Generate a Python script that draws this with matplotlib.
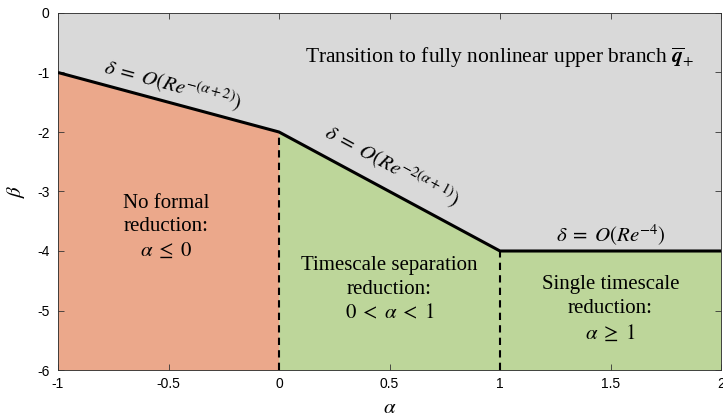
import matplotlib
matplotlib.use("Agg")
import matplotlib.pyplot as plt
import numpy as np

# Boundary between the reduced regimes and the nonlinear upper branch
alpha_bound = [-1.0, 0.0, 1.0, 2.0]
beta_bound = [-1.0, -2.0, -4.0, -4.0]

# Regime dividers
dividers = [0.0, 1.0]

x_ticks = [-1, -0.5, 0, 0.5, 1, 1.5, 2]
x_ticklabels = ["-1", "-0.5", "0", "0.5", "1", "1.5", "2"]
y_ticks = [0, -1, -2, -3, -4, -5, -6]
y_ticklabels = ["0", "-1", "-2", "-3", "-4", "-5", "-6"]

gray = "#d9d9d9"
orange = "#eba88b"
green = "#bdd69a"

plt.rcParams["mathtext.fontset"] = "stix"
serif = "Liberation Serif"

fig = plt.figure(figsize=(7.23, 4.15), dpi=100)
ax = fig.add_axes([58 / 723, 1 - 370 / 415, (721 - 58) / 723, (370 - 13) / 415])

xb = np.array(alpha_bound)
yb = np.array(beta_bound)

ax.fill_between([-1, 2], [-6, -6], [0, 0], color=gray, lw=0)
m1 = xb <= 0
ax.fill_between(xb[m1], -6, yb[m1], color=orange, lw=0)
m2 = xb >= 0
ax.fill_between(xb[m2], -6, yb[m2], color=green, lw=0)

ax.plot(xb, yb, color="black", lw=2.2, solid_capstyle="butt", zorder=3)
for d in dividers:
    top = np.interp(d, xb, yb)
    ax.plot([d, d], [-6, top], color="black", lw=1.5, ls=(0, (3.5, 2.5)), zorder=3)

ax.set_xlim(-1, 2)
ax.set_ylim(-6, 0)
ax.set_xticks(x_ticks)
ax.set_xticklabels(x_ticklabels)
ax.set_yticks(y_ticks)
ax.set_yticklabels(y_ticklabels)
ax.tick_params(direction="in", top=True, right=True, length=4, width=0.6,
               color="#333333", labelsize=10)
ax.tick_params(axis="y", pad=6)
ax.tick_params(axis="x", pad=5)
for lab in ax.get_xticklabels() + ax.get_yticklabels():
    lab.set_fontfamily("Liberation Sans")
for s in ax.spines.values():
    s.set_linewidth(0.6)
    s.set_color("#262626")
ax.set_axisbelow(False)

ax.set_xlabel(r"$\alpha$", fontsize=15, labelpad=4)
ax.set_ylabel(r"$\beta$", fontsize=15, labelpad=7)

fs = 15

def seg_angle(x0, y0, x1, y1):
    p0 = ax.transData.transform((x0, y0))
    p1 = ax.transData.transform((x1, y1))
    return np.degrees(np.arctan2(p1[1] - p0[1], p1[0] - p0[0]))

a1 = seg_angle(-1, -1, 0, -2)
a2 = seg_angle(0, -2, 1, -4)

ax.text(-0.48, -1.22, r"$\delta\;=\;O(Re^{-(\alpha+2)})$", rotation=a1,
        rotation_mode="anchor", ha="center", va="center", fontsize=fs)
ax.text(0.51, -2.58, r"$\delta\;=\;O(Re^{-2(\alpha+1)})$", rotation=a2,
        rotation_mode="anchor", ha="center", va="center", fontsize=fs)
ax.text(1.50, -3.73, r"$\delta\;=\;O(Re^{-4})$", ha="center", va="center",
        fontsize=fs)

ax.text(1.0, -0.76, r"Transition to fully nonlinear upper branch $\overline{\boldsymbol{q}}_{+}$",
        ha="center", va="center", fontsize=15.5, family=serif)

ax.text(-0.51, -3.6, "No formal\nreduction:\n" + r"$\alpha\;\leq\;0$", ha="center",
        va="center", fontsize=fs, family=serif, linespacing=1.35)
ax.text(0.50, -4.65, "Timescale separation\nreduction:\n" + r"$0\;<\;\alpha\;<\;1$",
        ha="center", va="center", fontsize=fs, family=serif, linespacing=1.35)
ax.text(1.50, -4.98, "Single timescale\nreduction:\n" + r"$\alpha\;\geq\;1$",
        ha="center", va="center", fontsize=fs, family=serif, linespacing=1.35)

fig.savefig("out.png", dpi=100)
